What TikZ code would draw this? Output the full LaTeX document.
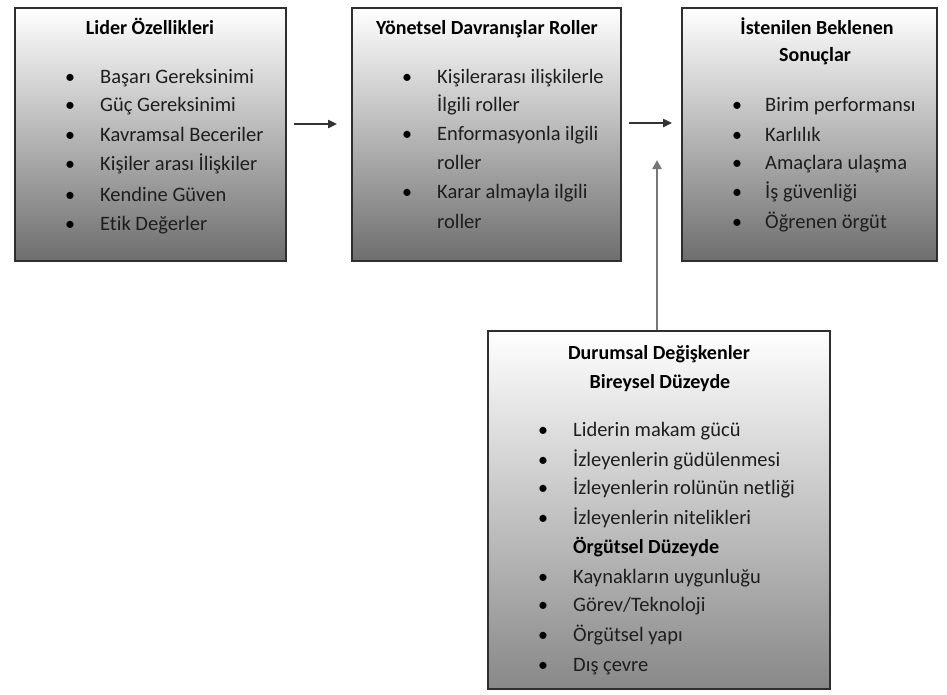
\documentclass[tikz,border=0pt]{standalone}
\usepackage{fontspec}
\setmainfont{Carlito}[Ligatures=NoCommon]
\usetikzlibrary{arrows.meta}
\definecolor{edgec}{HTML}{2E2E2E}
\definecolor{botA}{HTML}{6E6E6E}
\definecolor{botB}{HTML}{888888}
\definecolor{txtc}{HTML}{1E1E1E}
\definecolor{arrc}{HTML}{333333}
\definecolor{arrv}{HTML}{777777}
\begin{document}
\begin{tikzpicture}[x=1pt,y=-1pt,
  box/.style={draw=edgec, line width=1.8pt, rectangle, inner sep=0pt, top color=white},
  ttl/.style={font=\fontsize{20}{24}\selectfont\bfseries, text=black, anchor=base, inner sep=0pt},
  itm/.style={font=\fontsize{20.5}{24}\selectfont, text=txtc, anchor=base west, inner sep=0pt},
  bitm/.style={font=\fontsize{20}{24}\selectfont\bfseries, text=black, anchor=base west, inner sep=0pt},
  bul/.style={font=\fontsize{20}{24}\selectfont, text=black, anchor=base, inner sep=0pt},
  arr/.style={draw=arrc, line width=2pt, -{Triangle[length=9pt,width=8pt]}},
  varr/.style={draw=arrv, line width=2.5pt, -{Triangle[length=9pt,width=9pt]}}]
\useasboundingbox (0,0) rectangle (947,694);
% boxes
\node[box, bottom color=botA, minimum width=271pt, minimum height=253pt] (b1) at (150.5,134.5) {};
\node[box, bottom color=botA, minimum width=269pt, minimum height=253pt] (b2) at (486.5,134.5) {};
\node[box, bottom color=botA, minimum width=255pt, minimum height=253pt] (b3) at (809.5,134.5) {};
\node[box, bottom color=botB, minimum width=342pt, minimum height=358pt] (b4) at (659,510) {};
% box 1
\node[ttl] (t1) at (150,34.5) {Lider Özellikleri};
\foreach \y/\t [count=\i] in {83/Başarı Gereksinimi, 111/Güç  Gereksinimi, 141/Kavramsal Beceriler, 170/Kişiler arası İlişkiler, 201/Kendine Güven, 230/Etik Değerler}{
  \node[bul] (p1\i) at (70,\y) {•};
  \node[itm] (i1\i) at (100,\y) {\t};
}
% box 2
\node[ttl] (t2) at (487,34.5) {Yönetsel Davranışlar Roller};
\node[bul] (p21) at (407,83) {•};
\node[itm] (i21) at (437,83) {Kişilerarası ilişkilerle};
\node[itm] (i22) at (437,111) {İlgili roller};
\node[bul] (p23) at (407,140) {•};
\node[itm] (i23) at (437,140) {Enformasyonla ilgili};
\node[itm] (i24) at (437,169) {roller};
\node[bul] (p25) at (407,198) {•};
\node[itm] (i25) at (437,198) {Karar almayla ilgili};
\node[itm] (i26) at (437,228) {roller};
% box 3
\node[ttl] (t3a) at (817,34.5) {İstenilen Beklenen};
\node[ttl] (t3b) at (815,61.5) {Sonuçlar};
\foreach \y/\t [count=\i] in {111/Birim performansı, 141/Karlılık, 169/Amaçlara ulaşma, 198/İş güvenliği, 228/Öğrenen örgüt}{
  \node[bul] (p3\i) at (737,\y) {•};
  \node[itm] (i3\i) at (765,\y) {\t};
}
% box 4
\node[ttl] (t4a) at (659,359.5) {Durumsal Değişkenler};
\node[ttl] (t4b) at (660,388.5) {Bireysel Düzeyde};
\foreach \y/\t [count=\i] in {436/Liderin makam gücü, 466/İzleyenlerin güdülenmesi, 494/İzleyenlerin rolünün netliği, 524/İzleyenlerin nitelikleri}{
  \node[bul] (p4\i) at (543,\y) {•};
  \node[itm] (i4\i) at (573,\y) {\t};
}
\node[bitm] (t4c) at (573,553) {Örgütsel Düzeyde};
\foreach \y/\t [count=\i] in {583/{Kaynakların uygunluğu}, 611/{Görev/Teknoloji}, 641/{Örgütsel yapı}, 671/{Dış çevre}}{
  \node[bul] (q4\i) at (543,\y) {•};
  \node[itm] (j4\i) at (573,\y) {\t};
}
% connectors
\draw[arr, shorten <=7pt, shorten >=14pt] ([yshift=10.5pt]b1.east) -- ([yshift=10.5pt]b2.west);
\draw[arr, shorten <=7pt, shorten >=9pt] ([yshift=11.5pt]b2.east) -- ([yshift=11.5pt]b3.west);
\coordinate (vtip) at (657,160);
\draw[varr] ([xshift=-2pt]b4.north) -- (vtip);
\end{tikzpicture}
\end{document}
